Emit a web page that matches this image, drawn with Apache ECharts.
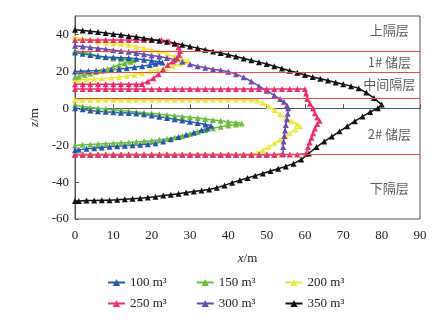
<!DOCTYPE html>
<html>
<head>
<meta charset="utf-8">
<script src="https://cdn.jsdelivr.net/npm/echarts@6/dist/echarts.min.js"></script>
<style>
  html, body { margin: 0; padding: 0; background: #fff; }
  #chart { width: 440px; height: 323px; }
</style>
</head>
<body>
<div id="chart"></div>
<script>
// Fracture profiles (x = fracture length, z = height) for each injected volume
const volumes = ['100 m³', '150 m³', '200 m³', '250 m³', '300 m³', '350 m³'];
const colors = ['#2356ad', '#6cbd3e', '#ece93e', '#ec2c6c', '#6a4bb0', '#111111'];

// 100 m³
const v100Upper = [[0,30.2],[2,29.6],[4,28.9],[6,28.2],[8,27.8],[10,27.6],[12,27.4],[14,27.2],[16,26.8],[18,26.3],[20,25.8],[22,25.2],[22.8,24.8],[21,24.1],[19.5,23.5],[17.5,22.8],[15.5,22.2],[13.5,21.7],[11.5,21.2],[9.5,20.9],[7.5,20.6],[5.5,20.4],[3.5,20.2],[1.5,20],[0,19.9]];
const v100Lower = [[0,0],[2,-0.5],[4,-1.2],[6,-1.6],[8,-1.9],[10,-2.2],[12,-2.4],[14,-2.6],[16,-2.8],[18,-3.3],[20,-3.9],[22,-4.6],[24,-5.3],[26,-5.9],[28,-6.6],[30,-7.3],[32,-8],[34,-8.8],[35.5,-9.5],[34.5,-11],[33,-11.9],[31,-13.2],[29,-14.4],[27,-15.6],[25,-16.8],[23,-18],[21,-19],[19,-19.5],[17,-19.8],[15,-20],[13,-20.3],[11,-20.6],[9,-20.9],[7,-21.2],[5,-21.6],[3,-22],[1,-22.5],[0,-22.7]];

// 150 m³
const v150Upper = [[0,31],[2,30.5],[4,29.6],[6,28.4],[8,27.6],[10,27],[12,26.6],[14,26.3],[15.3,26],[14.5,25.2],[13,24.4],[11.5,23.4],[10,22.4],[8.5,21.3],[7,20.4],[5.5,19.6],[4,18.9],[2.5,18.2],[1,17.2],[0,16.8]];
const v150Lower = [[0,1.8],[2,1],[4,0.4],[6,0],[8,-0.4],[10,-0.8],[12,-1.2],[14,-1.6],[16,-2],[18,-2.4],[20,-2.8],[22,-3.2],[24,-3.6],[26,-4],[28,-4.5],[30,-4.9],[32,-5.3],[34,-5.8],[36,-6.3],[38,-6.8],[40,-7.3],[42,-7.8],[43.5,-8.2],[42,-8.8],[40,-9.3],[38,-10],[36,-10.8],[34,-11.8],[32,-12.9],[30,-14],[28,-15],[26,-15.8],[24,-16.5],[22,-17.1],[20,-17.6],[18,-17.9],[16,-18.2],[14,-18.5],[12,-18.7],[10,-19],[8,-19.2],[6,-19.4],[4,-19.6],[2,-19.8],[0,-20.2]];

// 200 m³
const v200Upper = [[0,38.4],[2,37.8],[4,37],[6,36],[8,35.5],[10,35.2],[12,34.8],[14,34.4],[16,33.5],[18,32.6],[20,31.7],[22,30.8],[24,29.5],[26,28],[28,26.6],[29.5,25.5],[27.5,24.3],[25.5,22.8],[23.5,21.8],[21.5,20.8],[19.5,19.9],[17.5,19],[15.5,18.2],[13.5,17.5],[11.5,17],[9.5,16.5],[7,16.1],[5,15.8],[3,15.6],[1,15.4],[0,15.3]];
const v200Lower = [[0,4.6],[2,4.6],[4,4.6],[6,4.6],[8,4.6],[10,4.6],[12,4.6],[14,4.6],[16,4.6],[18,4.6],[20,4.6],[22,4.6],[24,4.6],[26,4.6],[28,4.6],[30,4.6],[32,4.6],[34,4.6],[36,4.6],[38,4.6],[40,4.6],[42,4.6],[44,4.6],[46,4.6],[47.5,4.2],[49,2.8],[50.5,1],[52,-1],[53.5,-3.2],[55,-5.2],[56.5,-7],[58,-8.6],[58.7,-9.8],[57.5,-11.5],[56,-13.5],[55,-15.2],[53.5,-17],[52,-19],[50.5,-21],[49,-22.7],[47.5,-24.2],[46,-25],[44,-25],[42,-25],[40,-25],[38,-25],[36,-25],[34,-25],[32,-25],[30,-25],[28,-25],[26,-25],[24,-25],[22,-25],[20,-25],[18,-25],[16,-25],[14,-25],[12,-25],[10,-25],[8,-25],[6,-25],[4,-25],[2,-25],[0,-25]];

// 250 m³
const v250Upper = [[0,37],[2,37],[4,37],[6,37],[8,37],[10,37],[12,37],[14,37],[16,37],[18,37],[20,37],[22.5,37],[24.5,36.3],[26,34.8],[27,33],[27.4,31],[27.2,29],[26.6,27.2],[25.5,25.4],[24.2,23.5],[23,21],[21.8,18.5],[20.5,16.3],[19,14.5],[17.5,13.2],[16,13],[14,13],[12,13],[10,13],[8,13],[6,13],[4,13],[2,13],[0,13]];
const v250Lower = [[0,10.5],[2,10.5],[4,10.5],[6,10.5],[8,10.5],[10,10.5],[12,10.5],[14,10.5],[16,10.5],[18,10.5],[20,10.5],[22,10.5],[24,10.5],[26,10.5],[28,10.5],[30,10.5],[32,10.5],[34,10.5],[36,10.5],[38,10.5],[40,10.5],[42,10.5],[44,10.5],[46,10.5],[48,10.5],[50,10.5],[52,10.5],[54,10.5],[56,10.5],[58,10.5],[60,10.5],[60.3,8],[60.6,5],[61.3,2.5],[62.1,0],[62.6,-2.7],[63.2,-5],[63.8,-6.7],[63.2,-8.5],[62.6,-11],[62.1,-13.5],[61.7,-16],[61.2,-18.5],[60.8,-21],[60.3,-24.5],[58,-25],[56,-25],[54,-25],[52,-25],[50,-25],[48,-25],[46,-25],[44,-25],[42,-25],[40,-25],[38,-25],[36,-25],[34,-25],[32,-25],[30,-25],[28,-25],[26,-25],[24,-25],[22,-25],[20,-25],[18,-25],[16,-25],[14,-25],[12,-25],[10,-25],[8,-25],[6,-25],[4,-25],[2,-25],[0,-25]];

// 300 m³
const v300 = [[0,33.9],[2,33.5],[4,33],[6,32.5],[8,32],[10,31.5],[12,31],[14,30.6],[16,30],[18,29.3],[20,28.6],[22,28],[24,27.3],[26,26.3],[28,25.2],[30,23.8],[32,22.8],[34,21.9],[36,21.2],[38,20.6],[40,19.8],[42,18.5],[44,16.8],[46,14.5],[48,12],[50,9.5],[52,7],[53.5,5],[54.5,3.5],[55.3,1.5],[55.6,0],[55.5,-3],[55.3,-6],[55,-9],[54.8,-12],[54.6,-15],[54.4,-18],[54.3,-21],[54.3,-24.8],[52,-25.2],[50,-25.2],[48,-25.2],[46,-25.2],[44,-25.2],[42,-25.2],[40,-25.2],[38,-25.2],[36,-25.2],[34,-25.2],[32,-25.2],[30,-25.2],[28,-25.2],[26,-25.2],[24,-25.2],[22,-25.2],[20,-25.2],[18,-25.2],[16,-25.2],[14,-25.2],[12,-25.2],[10,-25.2],[8,-25.2],[6,-25.2],[4,-25.2],[2,-25.2],[0,-25.2]];

// 350 m³
const v350 = [[0,42.5],[2,42.2],[4,41.8],[6,41.3],[8,40.8],[10,40.3],[12,39.8],[14,39.2],[16,38.7],[18,38],[20,37.3],[22,36.6],[24,36],[26,35.2],[28,34.4],[30,33.5],[32,32.6],[34,31.7],[36,30.8],[38,29.9],[40,29],[42,28],[44,27],[46,26],[48,25],[50,24],[52,22.8],[54,21.6],[56,20.3],[58,19.2],[60,18],[62,17],[64,16],[66,15],[68,14],[70,13],[72,12],[74,10.8],[76,8.5],[78,5.5],[80,2],[79,0],[77,-2],[75,-4.5],[73,-7],[71,-9.8],[69,-12.5],[67,-15.3],[65,-18],[63,-21],[61,-24.5],[59,-27.8],[57,-30],[55,-31.5],[53,-32.8],[51,-34],[49,-35.3],[47,-36.5],[45,-37.8],[43,-39],[41,-40.3],[39,-41.8],[37,-43],[35,-44],[33,-44.6],[31,-45.1],[29,-45.7],[27,-46.3],[25,-46.8],[23,-47.3],[21,-47.9],[19,-48.4],[17,-48.7],[15,-49],[13,-49.3],[11,-49.6],[9,-49.8],[7,-49.9],[5,-50],[3,-50],[1,-50.2],[0,-50.2]];

// Layer boundaries (z) and layer names
const boundaries = [30.8, 19.6, 5.4, -24.7];
const layerNames = ['上隔层', '1# 储层', '中间隔层', '2# 储层', '下隔层'];
const layerLabelZ = [42.5, 25.2, 13.2, -14, -43.3];
const layerLabelX = 82;

const xTicks = { min: 0, max: 90, interval: 10 };
const zTicks = { min: -60, max: 50, interval: 20 };

const serif = 'Liberation Serif';

function profile(name, idx, data, extra) {
  return Object.assign({
    name: name,
    type: 'line',
    data: data,
    color: colors[idx],
    symbol: 'triangle',
    symbolSize: 6,
    showAllSymbol: true,
    lineStyle: { width: 1.5, color: colors[idx] },
    itemStyle: { color: colors[idx] },
    emphasis: { disabled: true },
    z: 3
  }, extra || {});
}

const series = [
  profile(volumes[2], 2, v200Upper),
  profile(volumes[2], 2, v200Lower),
  profile(volumes[4], 4, v300),
  profile(volumes[3], 3, v250Upper),
  profile(volumes[3], 3, v250Lower),
  profile(volumes[1], 1, v150Upper),
  profile(volumes[1], 1, v150Lower),
  profile(volumes[0], 0, v100Upper),
  profile(volumes[0], 0, v100Lower),
  profile(volumes[5], 5, v350),
  {
    name: 'layers',
    type: 'scatter',
    data: layerNames.map((n, i) => ({ name: n, value: [layerLabelX, layerLabelZ[i]] })),
    symbolSize: 1,
    itemStyle: { color: 'rgba(0,0,0,0)' },
    label: {
      show: true,
      position: 'inside',
      formatter: p => p.name,
      fontFamily: 'Noto Sans CJK SC',
      fontSize: 13,
      color: '#333'
    },
    silent: true,
    z: 2,
    markLine: {
      silent: true,
      symbol: 'none',
      label: { show: false },
      lineStyle: { color: '#f0474f', width: 1, type: 'solid' },
      data: boundaries.map(b => ({ yAxis: b }))
    }
  }
];

const legendText = { fontFamily: serif, fontSize: 13, color: '#222' };

const option = {
  animation: false,
  backgroundColor: '#fff',
  grid: {
    left: 75, right: 20, top: 16, bottom: 104,
    show: true, borderColor: '#555', borderWidth: 1
  },
  legend: [
    {
      data: volumes.slice(0, 3),
      left: 102, top: 271,
      itemWidth: 17, itemHeight: 9, itemGap: 29,
      textStyle: legendText
    },
    {
      data: volumes.slice(3),
      left: 102, top: 292,
      itemWidth: 17, itemHeight: 9, itemGap: 29,
      textStyle: legendText
    }
  ],
  xAxis: {
    type: 'value',
    min: xTicks.min, max: xTicks.max, interval: xTicks.interval,
    name: '{i|x}/m',
    nameLocation: 'middle',
    nameGap: 33,
    nameTextStyle: {
      fontFamily: serif, fontSize: 13, color: '#222',
      rich: { i: { fontFamily: serif, fontSize: 13, fontStyle: 'italic', color: '#222' } }
    },
    axisLine: { lineStyle: { color: '#555' } },
    axisTick: { inside: true, length: 4, lineStyle: { color: '#555' } },
    axisLabel: { fontFamily: serif, fontSize: 13, color: '#222', margin: 10 },
    splitLine: { show: false }
  },
  yAxis: {
    type: 'value',
    min: zTicks.min, max: zTicks.max, interval: zTicks.interval,
    name: '{i|z}/m',
    nameLocation: 'middle',
    nameGap: 27,
    nameTextStyle: {
      fontFamily: serif, fontSize: 13, color: '#222',
      rich: { i: { fontFamily: serif, fontSize: 13, fontStyle: 'italic', color: '#222' } }
    },
    axisLine: { show: true, lineStyle: { color: '#555' } },
    axisTick: { show: true, inside: true, length: 4, lineStyle: { color: '#555' } },
    axisLabel: { fontFamily: serif, fontSize: 13, color: '#222', margin: 6, showMaxLabel: false },
    splitLine: { show: false }
  },
  series: series
};

const chart = echarts.init(document.getElementById('chart'), null, { renderer: 'canvas' });
chart.setOption(option);
</script>
</body>
</html>
